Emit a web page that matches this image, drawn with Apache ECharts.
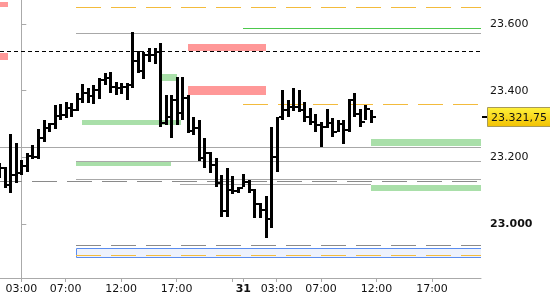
<!DOCTYPE html>
<html><head><meta charset="utf-8">
<script src="https://cdn.jsdelivr.net/npm/echarts@6/dist/echarts.min.js"></script>
<style>html,body{margin:0;padding:0;background:#fff}#c{width:550px;height:300px}</style>
</head><body><div id="c"></div>
<script>
// ---- data: 30-minute slots (slot 0 = 03:00 day 1; 22:00-23:00 gap removed) ----
const barSlots = [];
for (let s = -4; s <= 63; s++) barSlots.push(s);
const highs = [23183,23171,23270,23243,23192,23213,23237,23285,23312,23303,23357,23360,23366,23363,23393,23420,23408,23417,23438,23453,23456,23426,23423,23423,23576,23519,23516,23528,23528,23543,23387,23387,23441,23441,23387,23321,23312,23258,23216,23198,23147,23168,23144,23111,23150,23132,23105,23063,23084,23291,23321,23402,23372,23408,23402,23366,23348,23330,23306,23345,23318,23312,23312,23375,23393,23345,23357,23342];
const lows = [23138,23108,23093,23123,23147,23156,23195,23195,23246,23276,23285,23312,23318,23321,23339,23363,23363,23360,23375,23417,23393,23387,23390,23372,23408,23453,23435,23486,23480,23291,23297,23258,23297,23312,23273,23267,23189,23168,23153,23111,23021,23021,23090,23093,23111,23093,23018,23018,22958,22988,23156,23312,23321,23339,23336,23306,23297,23276,23231,23288,23261,23276,23240,23276,23321,23291,23312,23303];
const closes = [23168,23117,23147,23153,23174,23204,23201,23258,23288,23300,23324,23327,23348,23342,23375,23393,23384,23402,23432,23438,23411,23408,23411,23417,23489,23459,23507,23507,23516,23303,23321,23372,23333,23378,23279,23288,23198,23213,23177,23123,23039,23102,23099,23108,23126,23102,23060,23042,23015,23201,23321,23342,23351,23351,23342,23321,23306,23297,23291,23303,23276,23300,23282,23372,23330,23306,23345,23321.75];
const lastPrice = 23321.75;

const timeTickSlots = [0, 8, 18, 28, 40, 46, 54, 64, 74];
const timeTickLabels = ['03:00','07:00','12:00','17:00','31','03:00','07:00','12:00','17:00'];
const sessionBreakSlots = [38];
const priceTicks = [23000, 23200, 23400, 23600];
const priceMin = 22838, priceMax = 23672;
const slotMin = -3.84, slotMax = 82.83;

// levels: [startSlot, endSlot, value(s)]
const resistanceZones = [[-10,-2.4,23650,23667],[-10,-2.4,23492,23512],[30,44,23520,23540],[30,44,23387,23414]];
const supportZones = [[25,28,23429,23450],[10.94,28.8,23298,23313],[9.85,27,23174,23190],[63,99,23234,23255],[63,99,23100,23117]];
const graySolidLevels = [[9.85,99,23572],[-10,99,23232],[9.85,99,23190],[9.85,99,23136],[28.6,63,23120]];
const grayDashedLevels = [[-4.38,99,23130],[9.85,99,22936]];
const orangeDashedLevels = [[9.85,99,23652],[40,99,23359],[9.85,99,22908]];
const greenLevels = [[40,99,23587]];
const blackDashedLevels = [[-3.84,99,23520]];
const blueBands = [[9.85,99,22900,22927]];

const FONT = '"DejaVu Sans", Verdana, sans-serif';
function fmtPrice(v, dec) {
  const parts = v.toFixed(dec).split('.');
  const intPart = parts[0].replace(/\B(?=(\d{3})+(?!\d))/g, '.');
  return dec ? intPart + ',' + parts[1] : intPart;
}

function zoneItem(fill, stroke) {
  return function (params, api) {
    const p0 = api.coord([api.value(0), api.value(3)]);
    const p1 = api.coord([api.value(1), api.value(2)]);
    const x0 = Math.round(p0[0]), x1 = Math.round(p1[0]);
    const y0 = Math.round(p0[1]), y1 = Math.round(p1[1]);
    if (stroke) {
      return { type: 'rect', shape: { x: x0 + 0.5, y: y0 + 0.5, width: x1 - x0, height: y1 - y0 },
        style: { fill: fill, stroke: stroke, lineWidth: 1 } };
    }
    return { type: 'rect', shape: { x: x0, y: y0, width: x1 - x0, height: y1 - y0 }, style: { fill: fill } };
  };
}
function levelItem(color, dash) {
  return function (params, api) {
    const p0 = api.coord([api.value(0), api.value(2)]);
    const p1 = api.coord([api.value(1), api.value(2)]);
    const y = Math.round(p0[1]) + 0.5;
    return { type: 'line', shape: { x1: Math.round(p0[0]), y1: y, x2: Math.round(p1[0]), y2: y },
      style: { stroke: color, lineWidth: 1, lineDash: dash || null } };
  };
}
function custom(data, renderItem, z, clip) {
  return { type: 'custom', data: data, renderItem: renderItem, clip: clip !== false, z: z, silent: true, animation: false };
}

const barData = barSlots.map((s, k) => [s, highs[k], lows[k], closes[k]]);
function barItem(params, api) {
  const pH = api.coord([api.value(0), api.value(1)]);
  const pL = api.coord([api.value(0), api.value(2)]);
  const pC = api.coord([api.value(0), api.value(3)]);
  const cx = Math.round(pH[0]);
  const yH = Math.round(pH[1]), yL = Math.round(pL[1]), yC = Math.round(pC[1]);
  return { type: 'group', children: [
    { type: 'rect', shape: { x: cx - 1, y: yH, width: 3, height: Math.max(1, yL - yH) }, style: { fill: '#000' } },
    { type: 'rect', shape: { x: cx + 2, y: yC - 1, width: 3, height: 2 }, style: { fill: '#000' } }
  ] };
}
function priceItem(params, api) {
  const p = api.coord([api.value(0), api.value(1)]);
  const x = Math.round(p[0]), y = Math.round(p[1]);
  return { type: 'group', children: [
    { type: 'rect', shape: { x: x + 1, y: y - 1, width: 5, height: 2 }, style: { fill: '#000' } },
    { type: 'rect', shape: { x: x + 6.5, y: y - 9.5, width: 64, height: 19 },
      style: { stroke: '#a89a58', lineWidth: 1,
        fill: { type: 'linear', x: 0, y: 0, x2: 0, y2: 1, colorStops: [{ offset: 0, color: '#fff23c' }, { offset: 1, color: '#f2c000' }] } } },
    { type: 'text', style: { text: fmtPrice(api.value(1), 2), x: x + 10, y: y + 1, fill: '#111',
      font: '11px ' + FONT, verticalAlign: 'middle', align: 'left' } }
  ] };
}

const chart = echarts.init(document.getElementById('c'), null, { renderer: 'canvas' });
chart.setOption({
  animation: false,
  backgroundColor: '#fff',
  grid: { left: 0, right: 69, top: 0, bottom: 22, containLabel: false },
  xAxis: {
    type: 'value', min: slotMin, max: slotMax,
    axisLine: { show: true, lineStyle: { color: '#aaa', width: 1 } },
    axisTick: { show: true, length: 4, lineStyle: { color: '#aaa' }, customValues: timeTickSlots.concat(sessionBreakSlots) },
    splitLine: { show: false },
    axisLabel: {
      customValues: timeTickSlots, margin: 6, color: '#111', fontSize: 11, fontFamily: FONT,
      formatter: function (v) {
        const k = timeTickSlots.indexOf(Math.round(v));
        if (k < 0) return '';
        const t = timeTickLabels[k];
        return t.indexOf(':') < 0 ? '{b|' + t + '}' : t;
      },
      rich: { b: { fontWeight: 'bold', fontSize: 11, fontFamily: FONT, color: '#111' } }
    }
  },
  yAxis: {
    type: 'value', position: 'right', min: priceMin, max: priceMax,
    axisLine: { show: true, lineStyle: { color: '#aaa', width: 1 } },
    axisTick: { show: true, length: 5, lineStyle: { color: '#aaa' }, customValues: priceTicks },
    splitLine: { show: false },
    axisLabel: {
      customValues: priceTicks, margin: 9, color: '#111', fontSize: 11, fontFamily: FONT,
      formatter: function (v) {
        const s = fmtPrice(v, 0);
        return v % 1000 === 0 ? '{b|' + s + '}' : s;
      },
      rich: { b: { fontWeight: 'bold', fontSize: 11, fontFamily: FONT, color: '#111' } }
    }
  },
  series: [
    custom(blueBands, zoneItem('#eef2fc', '#5b8def'), 1),
    custom(resistanceZones, zoneItem('#ff9898'), 2),
    custom(supportZones, zoneItem('#a9dfa9'), 2),
    custom(graySolidLevels, levelItem('#a8a8a8'), 3),
    custom(grayDashedLevels, levelItem('#8a8a8a', [25, 10]), 3),
    custom(orangeDashedLevels, levelItem('#f3bb3c', [25, 10]), 3),
    custom(greenLevels, levelItem('#4cc84c'), 3),
    custom(blackDashedLevels, levelItem('#000', [4, 3]), 3),
    custom(barData, barItem, 5),
    custom([[slotMax, lastPrice]], priceItem, 6, false)
  ]
});
</script>
</body></html>
